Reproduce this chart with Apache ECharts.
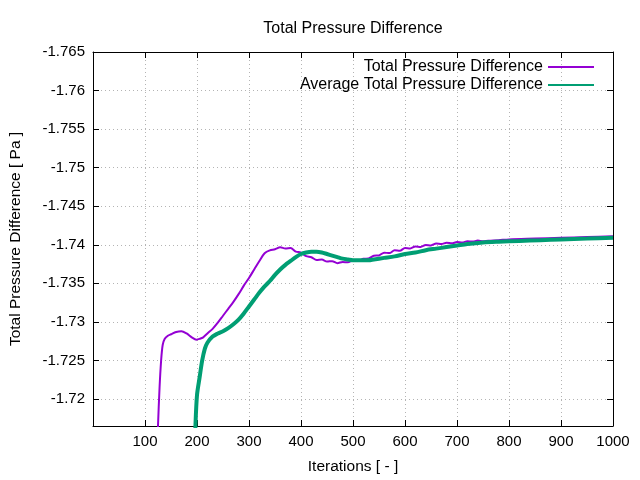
<!DOCTYPE html>
<html>
<head>
<meta charset="utf-8">
<script src="https://cdn.jsdelivr.net/npm/echarts@6/dist/echarts.min.js"></script>
<style>html,body{margin:0;padding:0;background:#fff}#c{width:640px;height:480px}</style>
</head>
<body>
<div id="c"></div>
<script>
const chartTitle = 'Total Pressure Difference';
const xName = 'Iterations [ - ]';
const yName = 'Total Pressure Difference [ Pa ]';
const seriesNames = ['Total Pressure Difference', 'Average Total Pressure Difference'];

const totalIter = [118,121,125,128,131,134,138,144,150,160,170,180,190,199,205,212,220,230,240,250,260,270,280,290,300,310,320,330,
  340,350,360,370,380,390,400,410,420,430,440,450,460,470,480,490,500,510,520,530,540,550,560,570,580,590,600,610,620,630,640,650,
  660,670,680,690,700,710,720,730,740,750,760,780,800,850,900,950,1000];
const totalVal = [-1.700,-1.708,-1.7165,-1.7215,-1.7250,-1.7270,-1.7278,-1.7282,-1.7284,-1.7287,-1.7288,-1.7285,-1.7280,-1.7277,-1.7278,-1.7280,-1.7285,-1.7291,-1.7299,-1.7308,-1.7317,-1.7326,-1.7336,-1.7347,-1.7357,-1.7368,-1.7379,-1.7389,
  -1.73928,-1.73942,-1.73968,-1.73952,-1.73958,-1.73912,-1.73898,-1.73852,-1.73838,-1.73802,-1.73808,-1.73782,-1.73788,-1.73762,-1.73778,-1.73772,-1.73798,-1.73792,-1.73818,-1.73822,-1.73858,-1.73862,-1.73898,-1.73892,-1.73928,-1.73922,-1.73958,-1.73952,-1.73978,-1.73972,-1.73998,-1.73992,
  -1.74016,-1.74009,-1.74026,-1.74019,-1.74035,-1.74030,-1.74045,-1.74041,-1.74054,-1.74046,-1.74053,-1.7406,-1.7407,-1.7408,-1.7409,-1.7410,-1.7411];

const avgIter = [194,197,200,205,210,215,220,230,240,250,260,270,280,290,300,310,320,330,340,350,360,370,380,390,400,410,420,430,440,450,460,470,480,490,500,510,520,530,540,560,580,600,620,640,660,680,700,720,750,780,820,860,900,950,1000];
const avgVal = [-1.710,-1.7165,-1.7205,-1.7228,-1.7250,-1.7265,-1.7273,-1.7281,-1.7285,-1.7288,-1.7292,-1.7297,-1.7303,-1.7311,-1.7320,-1.7329,-1.7338,-1.7346,-1.7353,-1.7361,-1.7368,-1.7374,-1.7379,-1.7384,-1.7388,-1.7390,-1.7391,-1.7391,-1.7390,-1.7388,-1.7386,-1.7384,-1.7382,-1.7381,-1.7380,-1.7380,-1.7380,-1.7380,-1.7381,-1.7383,-1.7385,-1.7388,-1.7390,-1.7393,-1.7395,-1.7397,-1.7399,-1.7401,-1.7403,-1.7404,-1.7405,-1.7406,-1.7407,-1.7408,-1.7409];

const font = 'Liberation Sans, Arial, sans-serif';
const gridLine = {show: true, lineStyle: {color: '#b4b4b4', type: [1, 3], width: 1}};
const yFmt = v => {
  const k = v / 0.005;
  if (Math.abs(k - Math.round(k)) > 1e-6) return '';
  return String(+v.toFixed(4));
};
const xFmt = v => (v === 0 ? '' : String(v));

const chart = echarts.init(document.getElementById('c'), null, {renderer: 'canvas'});
chart.setOption({
  animation: false,
  backgroundColor: '#fff',
  textStyle: {fontFamily: font},
  title: {text: chartTitle, left: 353, top: 21, textAlign: 'center', padding: 0,
    textStyle: {fontFamily: font, fontSize: 16, fontWeight: 'normal', color: '#000'}},
  legend: {
    orient: 'vertical', right: 45, top: 59, align: 'right', padding: 0,
    itemWidth: 46, itemHeight: 14, itemGap: 2,
    itemStyle: {opacity: 0},
    textStyle: {fontFamily: font, fontSize: 16, color: '#000'},
    data: seriesNames
  },
  grid: {left: 93, right: 27, top: 52, bottom: 54, containLabel: false},
  xAxis: [{
    type: 'value', min: 0, max: 1000, interval: 100, position: 'bottom',
    name: xName, nameLocation: 'middle', nameGap: 33,
    nameTextStyle: {fontFamily: font, fontSize: 15.5, color: '#000'},
    axisLine: {show: true, onZero: false, lineStyle: {color: '#000', width: 1}},
    axisTick: {show: true, inside: true, length: 6, lineStyle: {color: '#000'}},
    axisLabel: {fontFamily: font, fontSize: 15, color: '#000', margin: 8, formatter: xFmt},
    splitLine: gridLine
  }, {
    type: 'value', min: 0, max: 1000, interval: 100, position: 'top',
    axisLine: {show: true, onZero: false, lineStyle: {color: '#000', width: 1}},
    axisTick: {show: true, inside: true, length: 6, lineStyle: {color: '#000'}},
    axisLabel: {show: false}, splitLine: {show: false}
  }],
  yAxis: [{
    type: 'value', inverse: true, min: -1.765, max: -1.7165, interval: 0.005, position: 'left',
    name: yName, nameLocation: 'middle', nameGap: 69, nameRotate: 90,
    nameTextStyle: {fontFamily: font, fontSize: 15.5, color: '#000'},
    axisLine: {show: true, onZero: false, lineStyle: {color: '#000', width: 1}},
    axisTick: {show: true, inside: true, length: 6, lineStyle: {color: '#000'}},
    axisLabel: {fontFamily: font, fontSize: 15, color: '#000', margin: 8, formatter: yFmt},
    splitLine: gridLine
  }, {
    type: 'value', inverse: true, min: -1.765, max: -1.7165, interval: 0.005, position: 'right',
    axisLine: {show: true, onZero: false, lineStyle: {color: '#000', width: 1}},
    axisTick: {show: true, inside: true, length: 6, lineStyle: {color: '#000'}},
    axisLabel: {show: false}, splitLine: {show: false}
  }],
  series: [{
    name: seriesNames[0], type: 'line', xAxisIndex: 0, yAxisIndex: 0,
    data: totalIter.map((x, i) => [x, totalVal[i]]),
    showSymbol: false, symbol: 'none', smooth: 0.3, clip: true,
    lineStyle: {color: '#9400d3', width: 2}, itemStyle: {color: '#9400d3'}
  }, {
    name: seriesNames[1], type: 'line', xAxisIndex: 0, yAxisIndex: 0,
    data: avgIter.map((x, i) => [x, avgVal[i]]),
    showSymbol: false, symbol: 'none', smooth: 0.3, clip: true,
    lineStyle: {color: '#009e73', width: 4}, itemStyle: {color: '#009e73'}
  }]
});
</script>
</body>
</html>
